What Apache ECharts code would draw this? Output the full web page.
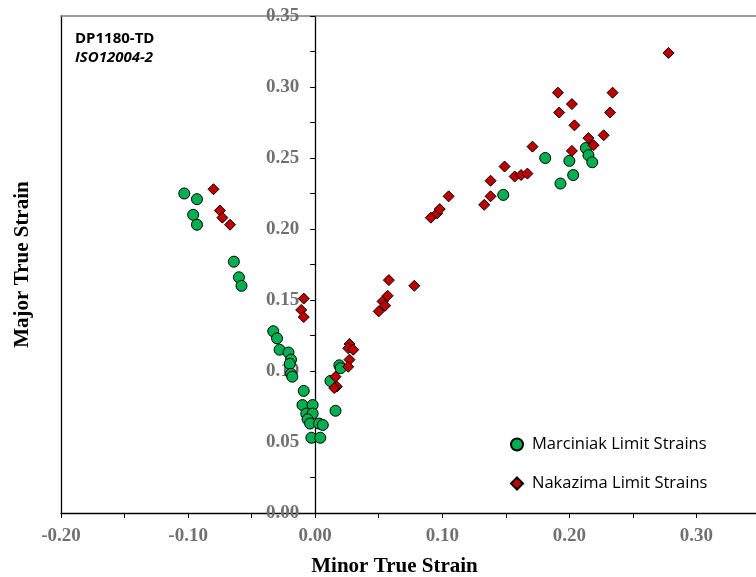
<!DOCTYPE html>
<html>
<head>
<meta charset="utf-8">
<script src="https://cdn.jsdelivr.net/npm/echarts@6/dist/echarts.min.js"></script>
<style>
  html, body { margin: 0; padding: 0; background: #fff; }
  #chart { width: 756px; height: 577px; }
</style>
</head>
<body>
<div id="chart"></div>
<script>
// Forming limit data for DP1180-TD (minor / major true strain)
const marciniakMinor = [-0.103, -0.093, -0.096, -0.093, -0.064, -0.060, -0.058, -0.033, -0.030, -0.028,
  -0.021, -0.019, -0.020, -0.019, -0.018, -0.009, -0.010, -0.002, -0.007, -0.002,
  -0.006, -0.004, 0.003, 0.006, -0.003, 0.004, 0.016, 0.012, 0.019, 0.020,
  0.148, 0.181, 0.200, 0.213, 0.215, 0.218, 0.203, 0.193];
const marciniakMajor = [0.225, 0.221, 0.210, 0.203, 0.177, 0.166, 0.160, 0.128, 0.123, 0.115,
  0.113, 0.108, 0.105, 0.098, 0.096, 0.086, 0.076, 0.076, 0.070, 0.070,
  0.066, 0.063, 0.063, 0.062, 0.053, 0.053, 0.072, 0.093, 0.104, 0.102,
  0.224, 0.250, 0.248, 0.257, 0.252, 0.247, 0.238, 0.232];

const nakazimaMinor = [-0.080, -0.075, -0.073, -0.067, -0.009, -0.011, -0.009, 0.027, 0.026, 0.030,
  0.027, 0.026, 0.016, 0.017, 0.015, 0.050, 0.053, 0.055, 0.057, 0.058,
  0.078, 0.091, 0.096, 0.098, 0.105, 0.133, 0.138, 0.138, 0.149, 0.157,
  0.162, 0.167, 0.171, 0.191, 0.202, 0.192, 0.204, 0.202, 0.215, 0.219,
  0.227, 0.232, 0.234, 0.278];
const nakazimaMajor = [0.228, 0.213, 0.208, 0.203, 0.151, 0.143, 0.138, 0.119, 0.116, 0.115,
  0.108, 0.103, 0.096, 0.089, 0.088, 0.142, 0.149, 0.146, 0.153, 0.164,
  0.160, 0.208, 0.211, 0.214, 0.223, 0.217, 0.223, 0.234, 0.244, 0.237,
  0.238, 0.239, 0.258, 0.296, 0.288, 0.282, 0.273, 0.255, 0.264, 0.259,
  0.266, 0.282, 0.296, 0.324];

const xTickMin = -0.20, xTickMax = 0.35, xStep = 0.05;
const yTickMin = 0.00, yTickMax = 0.35, yStep = 0.05;

const pair = (xs, ys) => xs.map((x, i) => [x, ys[i]]);

// plot frame (the right edge runs just past the canvas)
const gridLeft = 61, gridWidth = 699, gridTop = 16, gridBottom = 64;
// shift that puts the value axis on minor strain = 0
const yAxisShift = -gridWidth * (0 - xTickMin) / (xTickMax - xTickMin);

const tickFont = {
  fontFamily: 'Liberation Serif', fontWeight: 'bold', fontSize: 19, color: '#707070'
};
const nameFont = {
  fontFamily: 'Liberation Serif', fontWeight: 'bold', fontSize: 21, color: '#000'
};
const sansFont = 'Open Sans';

const chart = echarts.init(document.getElementById('chart'), null, { renderer: 'canvas' });

chart.setOption({
  animation: false,
  backgroundColor: '#fff',
  title: {
    text: 'DP1180-TD',
    subtext: 'ISO12004-2',
    left: 70,
    top: 26,
    itemGap: 4,
    textStyle: { fontFamily: sansFont, fontWeight: 'bold', fontSize: 15, color: '#000' },
    subtextStyle: { fontFamily: sansFont, fontWeight: 'bold', fontStyle: 'italic', fontSize: 15, color: '#000' }
  },
  legend: {
    orient: 'vertical',
    left: 505,
    top: 431,
    itemWidth: 12,
    itemHeight: 12,
    itemGap: 22,
    textStyle: { fontFamily: sansFont, fontSize: 16.5, color: '#000', lineHeight: 16, padding: [0, 0, 0, 4] },
    data: ['Marciniak Limit Strains', 'Nakazima Limit Strains']
  },
  grid: {
    left: gridLeft, width: gridWidth, top: gridTop, bottom: gridBottom,
    outerBoundsMode: 'none'
  },
  xAxis: [
    {
      type: 'value',
      min: xTickMin, max: xTickMax, interval: xStep,
      position: 'bottom',
      name: 'Minor True Strain',
      nameLocation: 'middle',
      nameGap: 43,
      nameTextStyle: Object.assign({}, nameFont, { padding: [0, 32, 0, 0] }),
      axisLine: { onZero: false, lineStyle: { color: '#000', width: 1.3 } },
      axisTick: { show: true, inside: false, length: 5, lineStyle: { color: '#000', width: 1 } },
      axisLabel: Object.assign({}, tickFont, {
        margin: 14,
        showMinLabel: true,
        formatter: v => (Math.round(Math.abs(v) * 100) % 10 === 0 ? (v === 0 ? 0 : v).toFixed(2) : '')
      }),
      splitLine: { show: false }
    },
    {
      type: 'value',
      min: xTickMin, max: xTickMax,
      position: 'top',
      axisLine: { onZero: false, lineStyle: { color: '#808080', width: 1.5 } },
      axisTick: { show: false },
      axisLabel: { show: false },
      splitLine: { show: false }
    }
  ],
  yAxis: [
    {
      type: 'value',
      min: yTickMin, max: yTickMax, interval: yStep,
      position: 'left',
      offset: yAxisShift,
      axisLine: { onZero: false, lineStyle: { color: '#000', width: 1.3 } },
      axisTick: { show: true, inside: false, length: 5, lineStyle: { color: '#000', width: 1 } },
      minorTick: { show: true, splitNumber: 2, length: 5, lineStyle: { color: '#000', width: 1 } },
      axisLabel: Object.assign({}, tickFont, {
        margin: 16,
        showMinLabel: true,
        showMaxLabel: true,
        formatter: v => v.toFixed(2)
      }),
      splitLine: { show: false }
    },
    {
      type: 'value',
      min: yTickMin, max: yTickMax,
      position: 'left',
      name: 'Major True Strain',
      nameLocation: 'middle',
      nameGap: 28,
      nameTextStyle: nameFont,
      axisLine: { show: true, onZero: false, lineStyle: { color: '#000', width: 1.3 } },
      axisTick: { show: false },
      axisLabel: { show: false },
      splitLine: { show: false }
    }
  ],
  series: [
    {
      name: 'Marciniak Limit Strains',
      type: 'scatter',
      xAxisIndex: 0, yAxisIndex: 0,
      symbol: 'circle',
      symbolSize: 11,
      itemStyle: { color: '#00b050', borderColor: '#000', borderWidth: 1, opacity: 1 },
      data: pair(marciniakMinor, marciniakMajor)
    },
    {
      name: 'Nakazima Limit Strains',
      type: 'scatter',
      xAxisIndex: 0, yAxisIndex: 0,
      symbol: 'diamond',
      symbolSize: 11,
      itemStyle: { color: '#c00000', borderColor: '#000', borderWidth: 1, opacity: 1 },
      data: pair(nakazimaMinor, nakazimaMajor)
    }
  ]
});
</script>
</body>
</html>
